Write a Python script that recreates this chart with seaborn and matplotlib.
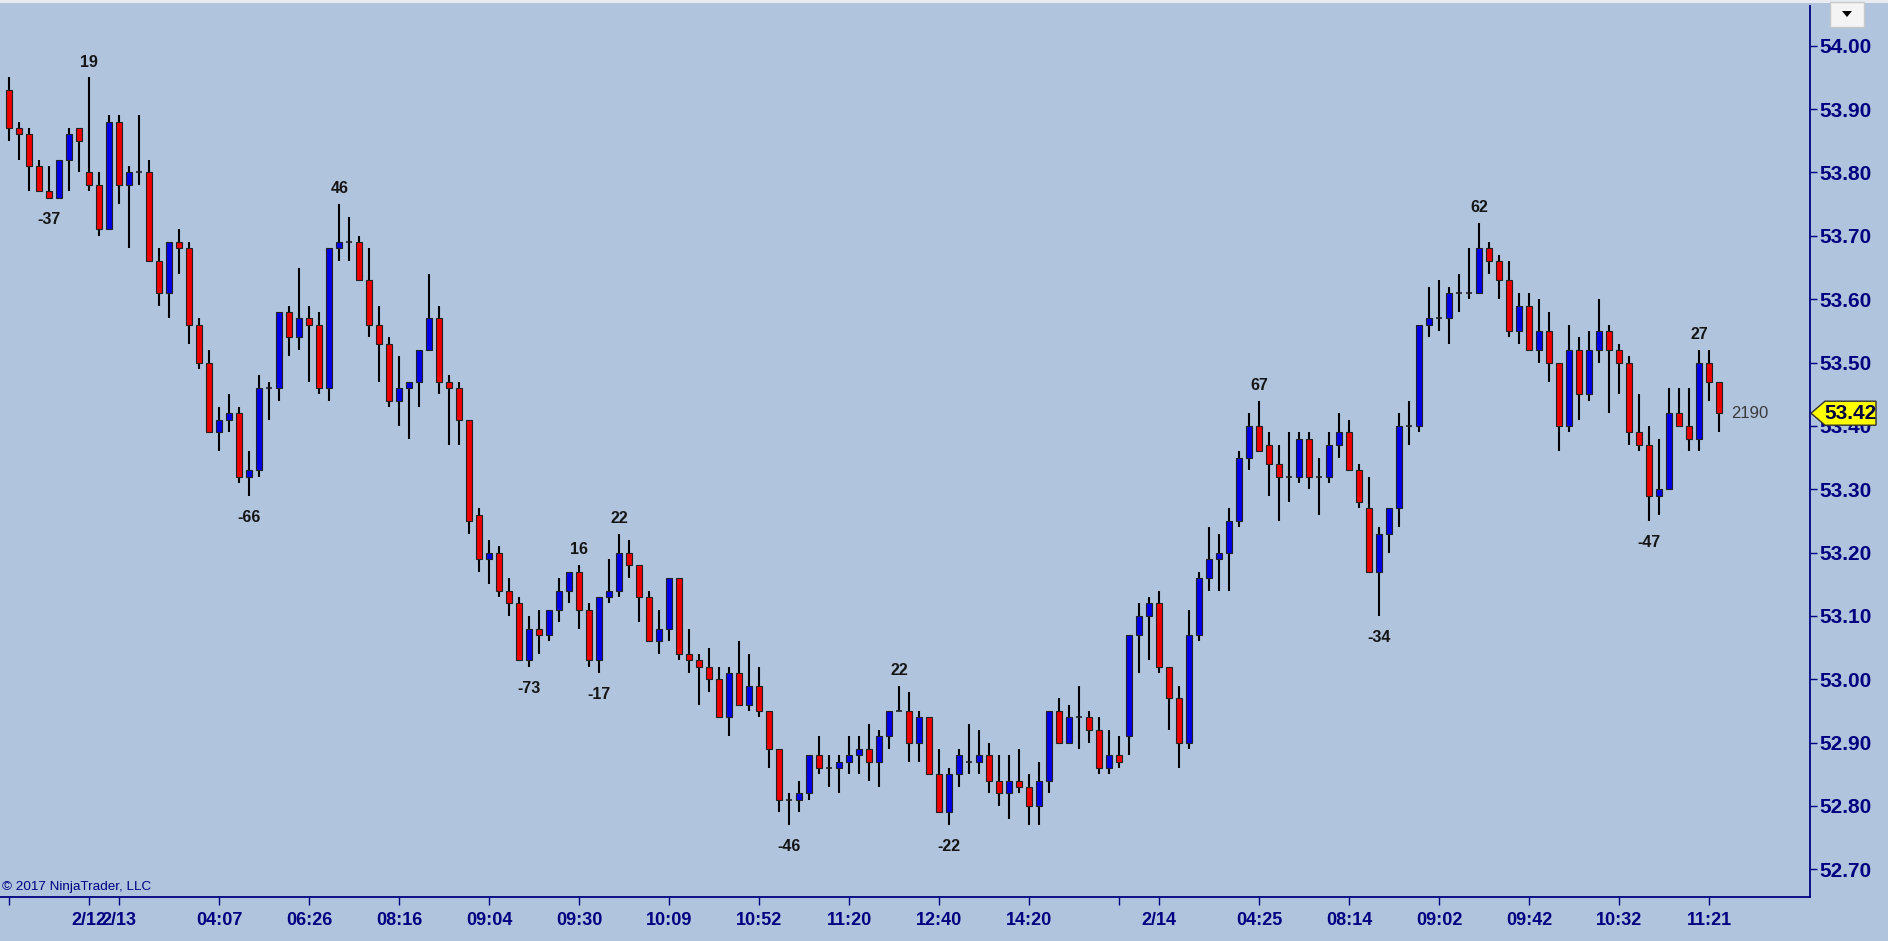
import numpy as np
import pandas as pd
import matplotlib
matplotlib.use("Agg")
import matplotlib.pyplot as plt
import seaborn as sns
from matplotlib.patches import Polygon, Rectangle

# ---------------- data ----------------
opens = [53.93, 53.87, 53.86, 53.81, 53.77, 53.76, 53.82, 53.87, 53.80, 53.78,
         53.71, 53.88, 53.78, 53.80, 53.80, 53.66, 53.61, 53.69, 53.68, 53.56,
         53.50, 53.39, 53.41, 53.42, 53.32, 53.33, 53.46, 53.46, 53.58, 53.54,
         53.57, 53.56, 53.46, 53.68, 53.69, 53.69, 53.63, 53.56, 53.53, 53.44,
         53.46, 53.47, 53.52, 53.57, 53.47, 53.46, 53.41, 53.26, 53.19, 53.20,
         53.14, 53.12, 53.03, 53.08, 53.07, 53.11, 53.14, 53.17, 53.11, 53.03,
         53.13, 53.14, 53.20, 53.18, 53.13, 53.06, 53.08, 53.16, 53.04, 53.03,
         53.02, 53.00, 52.94, 53.01, 52.96, 52.99, 52.95, 52.89, 52.81, 52.81,
         52.82, 52.88, 52.86, 52.86, 52.87, 52.88, 52.89, 52.87, 52.91, 52.95,
         52.95, 52.90, 52.94, 52.85, 52.79, 52.85, 52.87, 52.87, 52.88, 52.84,
         52.82, 52.84, 52.83, 52.80, 52.84, 52.95, 52.90, 52.94, 52.94, 52.92,
         52.86, 52.88, 52.91, 53.07, 53.10, 53.12, 53.02, 52.97, 52.90, 53.07,
         53.16, 53.19, 53.20, 53.25, 53.35, 53.40, 53.37, 53.34, 53.32, 53.32,
         53.38, 53.32, 53.32, 53.37, 53.39, 53.33, 53.27, 53.17, 53.23, 53.27,
         53.40, 53.40, 53.56, 53.57, 53.57, 53.61, 53.61, 53.61, 53.68, 53.66,
         53.63, 53.55, 53.59, 53.52, 53.55, 53.50, 53.40, 53.52, 53.45, 53.52,
         53.55, 53.52, 53.50, 53.39, 53.37, 53.29, 53.30, 53.42, 53.40, 53.38,
         53.50, 53.47]
highs = [53.95, 53.88, 53.87, 53.82, 53.81, 53.82, 53.87, 53.87, 53.95, 53.80,
         53.89, 53.89, 53.81, 53.89, 53.82, 53.68, 53.69, 53.71, 53.69, 53.57,
         53.52, 53.43, 53.45, 53.43, 53.36, 53.48, 53.47, 53.58, 53.59, 53.65,
         53.59, 53.58, 53.68, 53.75, 53.73, 53.70, 53.68, 53.59, 53.54, 53.51,
         53.47, 53.52, 53.64, 53.59, 53.48, 53.47, 53.41, 53.27, 53.22, 53.21,
         53.16, 53.13, 53.10, 53.11, 53.11, 53.16, 53.17, 53.18, 53.12, 53.13,
         53.19, 53.23, 53.22, 53.18, 53.14, 53.11, 53.16, 53.16, 53.08, 53.04,
         53.05, 53.02, 53.02, 53.06, 53.04, 53.02, 52.95, 52.89, 52.82, 52.84,
         52.88, 52.91, 52.88, 52.88, 52.91, 52.91, 52.93, 52.92, 52.95, 52.99,
         52.98, 52.95, 52.94, 52.89, 52.86, 52.89, 52.93, 52.92, 52.90, 52.88,
         52.88, 52.89, 52.85, 52.87, 52.95, 52.97, 52.96, 52.99, 52.95, 52.94,
         52.92, 52.91, 53.07, 53.12, 53.13, 53.14, 53.02, 52.99, 53.11, 53.17,
         53.24, 53.23, 53.27, 53.36, 53.42, 53.44, 53.39, 53.37, 53.39, 53.39,
         53.39, 53.35, 53.39, 53.42, 53.41, 53.34, 53.32, 53.24, 53.27, 53.42,
         53.44, 53.56, 53.62, 53.63, 53.62, 53.64, 53.68, 53.72, 53.69, 53.67,
         53.66, 53.61, 53.61, 53.60, 53.58, 53.50, 53.56, 53.54, 53.55, 53.60,
         53.56, 53.53, 53.51, 53.45, 53.40, 53.38, 53.46, 53.46, 53.46, 53.52,
         53.52, 53.47]
lows = [53.85, 53.82, 53.77, 53.77, 53.76, 53.76, 53.77, 53.80, 53.77, 53.70,
        53.71, 53.75, 53.68, 53.78, 53.66, 53.59, 53.57, 53.64, 53.53, 53.49,
        53.39, 53.36, 53.39, 53.31, 53.29, 53.32, 53.41, 53.44, 53.51, 53.52,
        53.47, 53.45, 53.44, 53.66, 53.66, 53.63, 53.54, 53.47, 53.43, 53.40,
        53.38, 53.43, 53.52, 53.45, 53.37, 53.37, 53.23, 53.17, 53.15, 53.13,
        53.10, 53.03, 53.02, 53.04, 53.06, 53.09, 53.12, 53.08, 53.02, 53.01,
        53.12, 53.13, 53.16, 53.09, 53.06, 53.04, 53.06, 53.03, 53.01, 52.96,
        52.98, 52.94, 52.91, 52.96, 52.95, 52.94, 52.86, 52.79, 52.77, 52.79,
        52.81, 52.85, 52.83, 52.82, 52.85, 52.85, 52.84, 52.83, 52.89, 52.95,
        52.87, 52.87, 52.85, 52.79, 52.77, 52.83, 52.85, 52.85, 52.82, 52.80,
        52.78, 52.82, 52.77, 52.77, 52.82, 52.90, 52.90, 52.89, 52.90, 52.85,
        52.85, 52.86, 52.88, 53.01, 53.03, 53.01, 52.92, 52.86, 52.89, 53.06,
        53.14, 53.14, 53.14, 53.24, 53.33, 53.36, 53.29, 53.25, 53.28, 53.31,
        53.30, 53.26, 53.31, 53.35, 53.33, 53.27, 53.17, 53.10, 53.20, 53.24,
        53.37, 53.39, 53.54, 53.55, 53.53, 53.58, 53.60, 53.61, 53.64, 53.60,
        53.54, 53.53, 53.52, 53.50, 53.47, 53.36, 53.39, 53.41, 53.44, 53.50,
        53.42, 53.45, 53.37, 53.36, 53.25, 53.26, 53.30, 53.40, 53.36, 53.36,
        53.44, 53.39]
closes = [53.87, 53.86, 53.81, 53.77, 53.76, 53.82, 53.86, 53.85, 53.78, 53.71,
          53.88, 53.78, 53.80, 53.80, 53.66, 53.61, 53.69, 53.68, 53.56, 53.50,
          53.39, 53.41, 53.42, 53.32, 53.33, 53.46, 53.46, 53.58, 53.54, 53.57,
          53.56, 53.46, 53.68, 53.69, 53.69, 53.63, 53.56, 53.53, 53.44, 53.46,
          53.47, 53.52, 53.57, 53.47, 53.46, 53.41, 53.25, 53.19, 53.20, 53.14,
          53.12, 53.03, 53.08, 53.07, 53.11, 53.14, 53.17, 53.11, 53.03, 53.13,
          53.14, 53.20, 53.18, 53.13, 53.06, 53.08, 53.16, 53.04, 53.03, 53.02,
          53.00, 52.94, 53.01, 52.96, 52.99, 52.95, 52.89, 52.81, 52.81, 52.82,
          52.88, 52.86, 52.86, 52.87, 52.88, 52.89, 52.87, 52.91, 52.95, 52.95,
          52.90, 52.94, 52.85, 52.79, 52.85, 52.88, 52.87, 52.88, 52.84, 52.82,
          52.84, 52.83, 52.80, 52.84, 52.95, 52.90, 52.94, 52.94, 52.92, 52.86,
          52.88, 52.87, 53.07, 53.10, 53.12, 53.02, 52.97, 52.90, 53.07, 53.16,
          53.19, 53.20, 53.25, 53.35, 53.40, 53.36, 53.34, 53.32, 53.32, 53.38,
          53.32, 53.32, 53.37, 53.39, 53.33, 53.28, 53.17, 53.23, 53.27, 53.40,
          53.40, 53.56, 53.57, 53.57, 53.61, 53.61, 53.61, 53.68, 53.66, 53.63,
          53.55, 53.59, 53.52, 53.55, 53.50, 53.40, 53.52, 53.45, 53.52, 53.55,
          53.52, 53.50, 53.39, 53.37, 53.29, 53.30, 53.42, 53.40, 53.38, 53.50,
          53.47, 53.42]

tick_bars = [0, 8, 11, 21, 30, 39, 48, 57, 66, 75, 84, 93, 102, 111, 115,
             125, 134, 143, 152, 161, 170]
tick_labels = ["", "2/12", "2/13", "04:07", "06:26", "08:16", "09:04", "09:30",
               "10:09", "10:52", "11:20", "12:40", "14:20", "", "2/14", "04:25",
               "08:14", "09:02", "09:42", "10:32", "11:21"]

price_ticks = [52.70, 52.80, 52.90, 53.00, 53.10, 53.20, 53.30, 53.40,
               53.50, 53.60, 53.70, 53.80, 53.90, 54.00]

swing_high_bars = [8, 33, 57, 61, 89, 125, 147, 169]
swing_high_text = ["19", "46", "16", "22", "22", "67", "62", "27"]
swing_low_bars = [4, 24, 52, 59, 78, 94, 137, 164]
swing_low_text = ["-37", "-66", "-73", "-17", "-46", "-22", "-34", "-47"]

last_price_text = "53.42"
volume_text = "2190"
copyright_text = "\u00a9 2017 NinjaTrader, LLC"

# ---------------- style ----------------
BG = "#B0C4DE"
NAVY = "#000080"
UP = "#0000E6"
DOWN = "#EE0000"

sns.set_theme(style="ticks")
plt.rcParams["font.family"] = ["Liberation Sans", "DejaVu Sans"]

W, H = 1888, 941
fig = plt.figure(figsize=(W / 100, H / 100), dpi=100, facecolor=BG)
ax = fig.add_axes([0.0, 44 / H, 1810 / W, (897 - 6) / H])
ax.set_facecolor(BG)

df = pd.DataFrame({"bar": np.arange(len(opens)), "open": opens, "high": highs,
                   "low": lows, "close": closes})
up = df[df["close"] > df["open"]]
down = df[df["close"] < df["open"]]
doji = df[df["close"] == df["open"]]

ax.vlines(df["bar"], df["low"], df["high"], color="black", linewidth=1.5, zorder=2)
ax.bar(up["bar"], up["close"] - up["open"], bottom=up["open"], width=0.6,
       color=UP, edgecolor="#202020", linewidth=0.8, zorder=3)
ax.bar(down["bar"], down["open"] - down["close"], bottom=down["close"], width=0.6,
       color=DOWN, edgecolor="#202020", linewidth=0.8, zorder=3)
ax.hlines(doji["open"], doji["bar"] - 0.3, doji["bar"] + 0.3, color="#202020",
          linewidth=1.2, zorder=3)

for b, t in zip(swing_high_bars, swing_high_text):
    ax.annotate(t, (b, highs[b]), xytext=(0, 11), textcoords="offset points",
                ha="center", va="center", fontsize=11.5, fontweight="bold",
                color="#151515", zorder=4)
for b, t in zip(swing_low_bars, swing_low_text):
    ax.annotate(t, (b, lows[b]), xytext=(0, -15.5), textcoords="offset points",
                ha="center", va="center", fontsize=11.5, fontweight="bold",
                color="#151515", zorder=4)

ax.set_xlim(-0.93, 180.07)
ax.set_ylim(52.6563, 54.0628)

ax.yaxis.tick_right()
ax.set_yticks(price_ticks)
ax.set_yticklabels([f"{p:.2f}" for p in price_ticks])
ax.set_xticks(tick_bars)
ax.set_xticklabels(tick_labels)
ax.tick_params(axis="y", which="both", direction="out", length=5, width=1,
               color=NAVY, labelcolor=NAVY, labelsize=15, pad=2)
ax.tick_params(axis="x", which="both", direction="out", length=6, width=1,
               color=NAVY, labelcolor=NAVY, labelsize=13, pad=4.5)
for lab in ax.get_yticklabels() + ax.get_xticklabels():
    lab.set_fontweight("bold")

for s in ["left", "top"]:
    ax.spines[s].set_visible(False)
for s in ["right", "bottom"]:
    ax.spines[s].set_visible(True)
    ax.spines[s].set_color(NAVY)
    ax.spines[s].set_linewidth(1.3)

# volume text next to last bar
ax.text(172.2, closes[-1], volume_text, ha="left", va="center", fontsize=12,
        color="#3A3A3A", zorder=4)

# copyright
ax.text(0.001, 0.004, copyright_text, transform=ax.transAxes, ha="left",
        va="bottom", fontsize=9.7, color=NAVY)

# last price marker on the axis
y_last = ax.transData.transform((0, closes[-1]))[1]
x_axis = 1810
poly = Polygon([(x_axis + 1, y_last), (x_axis + 15, y_last + 12), (x_axis + 66, y_last + 12),
                (x_axis + 66, y_last - 12), (x_axis + 15, y_last - 12)],
               closed=True, transform=None, facecolor="#FFFF00", edgecolor="#303030",
               linewidth=1, zorder=10)
fig.patches.append(poly)
fig.text((x_axis + 41) / W, y_last / H, last_price_text, ha="center", va="center",
         fontsize=15, fontweight="bold", color="#000040", zorder=11)

# top border line and dropdown box
fig.patches.append(Rectangle((0, H - 3), W, 3, transform=None, facecolor="#E8ECF2",
                             edgecolor="none", zorder=5))
fig.patches.append(Rectangle((1830, H - 27), 34, 25, transform=None, facecolor="#F4F4F4",
                             edgecolor="#C8C8C8", linewidth=1, zorder=6))
fig.patches.append(Polygon([(1842, H - 11), (1852, H - 11), (1847, H - 17)], closed=True,
                           transform=None, facecolor="black", edgecolor="none", zorder=7))

fig.savefig("out.png", dpi=100, facecolor=BG)
